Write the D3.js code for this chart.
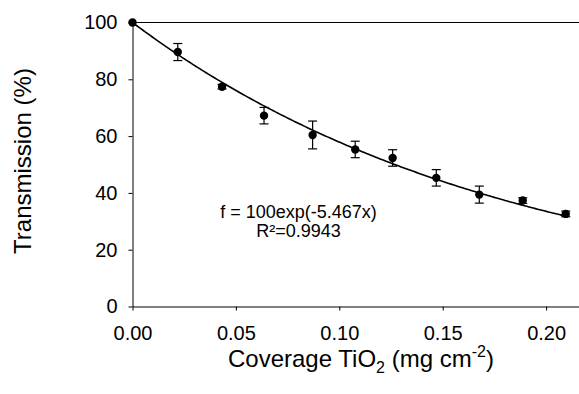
<!DOCTYPE html>
<html><head><meta charset="utf-8">
<script src="https://cdn.jsdelivr.net/npm/d3@7"></script>
<style>
html,body{margin:0;padding:0;background:#fff;}
svg{display:block;font-family:"Liberation Sans",Arial,sans-serif;}
</style></head>
<body><svg id="c" width="579" height="394"></svg>
<script>
// Data
const coverage = [0.0, 0.0219, 0.0433, 0.0636, 0.0871, 0.1077, 0.1258, 0.1469, 0.1677, 0.1887, 0.2095];
const transmission = [100, 89.6, 77.4, 67.2, 60.4, 55.3, 52.3, 45.3, 39.4, 37.3, 32.6];
const errors = [0, 3.0, 0.8, 2.9, 4.9, 2.9, 2.9, 2.9, 3.0, 1.0, 1.0];
const xTicks = [0, 0.05, 0.10, 0.15, 0.20];
const yTicks = [0, 20, 40, 60, 80, 100];
const fitA = 100, fitK = -5.467, fitXmax = 0.2095;
const fitLabel = "f = 100exp(-5.467x)";
const r2Label = "R\u00B2=0.9943";

const svg = d3.select("#c");
const x = d3.scaleLinear().domain([0, (579 - 132.5) / 2068]).range([132.5, 579]);
const y = d3.scaleLinear().domain([0, 100]).range([306.5, 22.5]);

// x axis
const gx = svg.append("g").attr("transform", `translate(0,${y(0)})`)
  .call(d3.axisBottom(x).tickValues(xTicks).tickFormat(d3.format(".2f")).tickSize(4).tickSizeOuter(0).tickPadding(15));
gx.selectAll("text").attr("font-size", 20).attr("font-family", "Liberation Sans, Arial, sans-serif").attr("fill", "#000");
gx.selectAll("line,path").attr("stroke", "#000");

// y axis
const gy = svg.append("g").attr("transform", `translate(${x(0)},0)`)
  .call(d3.axisLeft(y).tickValues(yTicks).tickSize(4).tickSizeOuter(0).tickPadding(11));
gy.selectAll("text").attr("font-size", 20).attr("font-family", "Liberation Sans, Arial, sans-serif").attr("fill", "#000");
gy.selectAll("line,path").attr("stroke", "#000");

// top line at 100
svg.append("line").attr("x1", x.range()[0]).attr("x2", x.range()[1])
  .attr("y1", y(100)).attr("y2", y(100)).attr("stroke", "#000").attr("stroke-width", 1);

// fit curve
const fx = d3.range(0, 201).map(i => fitXmax * i / 200);
svg.append("path").datum(fx)
  .attr("d", d3.line().x(d => x(d)).y(d => y(fitA * Math.exp(fitK * d))))
  .attr("fill", "none").attr("stroke", "#000").attr("stroke-width", 1.6);

const pts = coverage.map((c, i) => ({c, t: transmission[i], e: errors[i]}));
// error bars
const eb = svg.append("g").attr("stroke", "#000").attr("stroke-width", 1.2);
pts.filter(d => d.e > 0).forEach(d => {
  eb.append("line").attr("x1", x(d.c)).attr("x2", x(d.c)).attr("y1", y(d.t - d.e)).attr("y2", y(d.t + d.e));
  [d.t - d.e, d.t + d.e].forEach(v => {
    eb.append("line").attr("x1", x(d.c) - 4.5).attr("x2", x(d.c) + 4.5).attr("y1", y(v)).attr("y2", y(v));
  });
});
// points
svg.append("g").selectAll("circle").data(pts).join("circle")
  .attr("cx", d => x(d.c)).attr("cy", d => y(d.t)).attr("r", 4.2).attr("fill", "#000");

// equation
svg.append("text").attr("x", 298.5).attr("y", 217.5).attr("text-anchor", "middle")
  .attr("font-size", 18).text(fitLabel);
svg.append("text").attr("x", 298.5).attr("y", 237.3).attr("text-anchor", "middle")
  .attr("font-size", 18).text(r2Label);

// axis titles
svg.append("text").attr("transform", "translate(31,161) rotate(-90)")
  .attr("text-anchor", "middle").attr("font-size", 24).text("Transmission (%)");
const xt = svg.append("text").attr("x", 228).attr("y", 366.7).attr("font-size", 24);
xt.append("tspan").text("Coverage TiO");
xt.append("tspan").attr("font-size", 16).attr("dy", 6).text("2");
xt.append("tspan").attr("dy", -6).text(" (mg cm");
xt.append("tspan").attr("font-size", 16).attr("dy", -10).text("-2");
xt.append("tspan").attr("dy", 10).text(")");
</script></body></html>
